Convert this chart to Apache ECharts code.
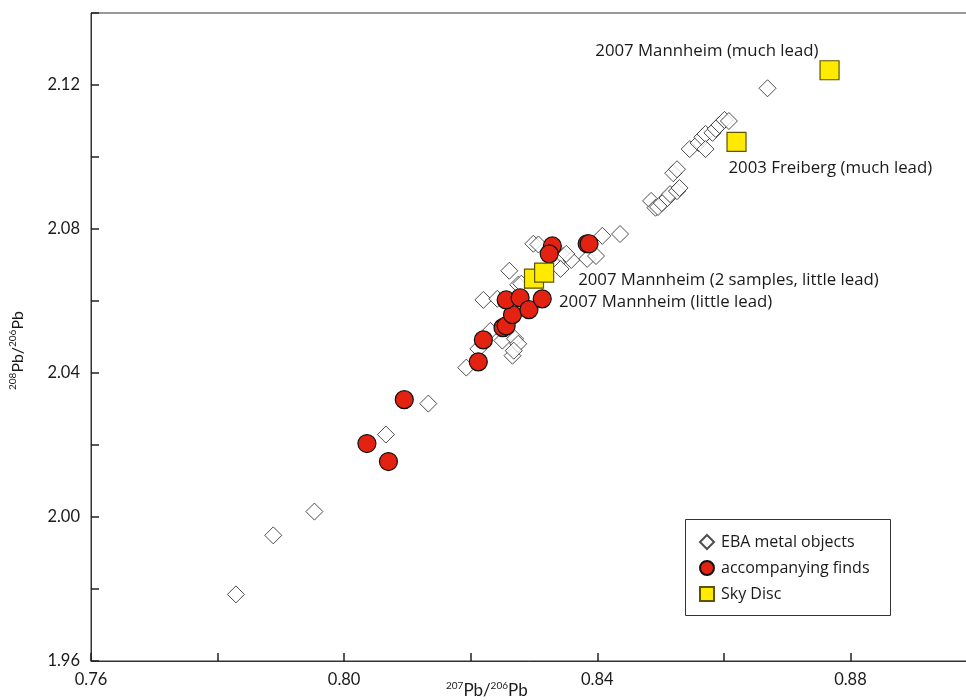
<!DOCTYPE html>
<html>
<head>
<meta charset="utf-8">
<script src="https://cdn.jsdelivr.net/npm/echarts@6/dist/echarts.min.js"></script>
<style>html,body{margin:0;padding:0;background:#fff}#c{width:966px;height:700px}</style>
</head>
<body>
<div id="c"></div>
<script>
// 207Pb/206Pb, 208Pb/206Pb
const ebaMetalObjects = [
  [0.7829,1.9785],[0.7888,1.9949],[0.7953,2.0015],[0.8066,2.0229],[0.8133,2.0315],
  [0.8193,2.0415],[0.8220,2.0603],[0.8242,2.0606],[0.8275,2.0645],[0.8261,2.0684],
  [0.8231,2.0517],[0.8250,2.0490],[0.8270,2.0495],[0.8275,2.0481],[0.8266,2.0448],
  [0.8268,2.0462],[0.8212,2.0467],[0.8299,2.0759],[0.8307,2.0757],[0.8346,2.0725],
  [0.8359,2.0714],[0.8351,2.0731],[0.8342,2.0689],[0.8384,2.0717],[0.8398,2.0725],
  [0.8408,2.0781],[0.8436,2.0786],[0.8280,2.0648],[0.8485,2.0878],[0.8492,2.0859],
  [0.8496,2.0861],[0.8502,2.0872],[0.8511,2.0886],[0.8515,2.0897],[0.8526,2.0905],
  [0.8530,2.0914],[0.8520,2.0955],[0.8526,2.0966],[0.8546,2.1022],[0.8560,2.1039],
  [0.8566,2.1055],[0.8571,2.1064],[0.8582,2.1067],[0.8587,2.1078],[0.8593,2.1089],
  [0.8601,2.1103],[0.8608,2.1100],[0.8571,2.1022],[0.8669,2.1191]
];
const accompanyingFinds = [
  [0.8095,2.0326],[0.8036,2.0204],[0.8070,2.0154],[0.8212,2.0431],[0.8220,2.0492],
  [0.8251,2.0526],[0.8256,2.0531],[0.8266,2.0562],[0.8256,2.0603],[0.8278,2.0609],
  [0.8292,2.0576],[0.8313,2.0606],[0.8329,2.0753],[0.8324,2.0731],[0.8384,2.0759],
  [0.8387,2.0759]
];
const skyDisc = [[0.8767,2.1241],[0.8620,2.1042],[0.8300,2.0662],[0.8316,2.0679]];
const skyDiscLabels = ['2007 Mannheim (much lead)','2003 Freiberg (much lead)','2007 Mannheim (little lead)','2007 Mannheim (2 samples, little lead)'];
const seriesNames = ['EBA metal objects','accompanying finds','Sky Disc'];
const xTicks = [0.76,0.80,0.84,0.88];
const yTicks = [1.96,2.00,2.04,2.08,2.12];

const FONT = 'Open Sans';
const TICKFONT = 'Lato';
const labelOffsets = [[-11,-19],[-8,26],[25,24],[34,8]];
const labelAligns = ['right','left','left','left'];

const chart = echarts.init(document.getElementById('c'));
const fmt = v => {
  const k = Math.round(v*100);
  return (xTicks.concat(yTicks).some(t => Math.round(t*100) === k)) ? (k/100).toFixed(2) : '';
};
chart.setOption({
  animation:false,
  textStyle:{fontFamily:FONT},
  grid:{left:91,top:13,bottom:39,right:-11,outerBoundsMode:'none',containLabel:false,show:true,borderColor:'#333',borderWidth:1},
  xAxis:{type:'value',min:0.76,max:0.90,interval:0.02,
    axisLine:{show:true,lineStyle:{color:'#333',width:1}},
    axisTick:{show:true,inside:true,length:8,lineStyle:{color:'#222',width:1.5}},
    splitLine:{show:false},
    axisLabel:{formatter:fmt,fontSize:16.5,color:'#1a1a1a',margin:10,fontFamily:TICKFONT}},
  yAxis:{type:'value',min:1.96,max:2.14,interval:0.02,
    axisLine:{show:true,lineStyle:{color:'#333',width:1}},
    axisTick:{show:true,inside:true,length:8,lineStyle:{color:'#222',width:1.5}},
    splitLine:{show:false},
    axisLabel:{formatter:fmt,fontSize:16.5,color:'#1a1a1a',margin:11,fontFamily:TICKFONT}},
  legend:{orient:'vertical',left:699,top:534,padding:0,itemGap:10,itemWidth:14,itemHeight:14,
    data:seriesNames,
    textStyle:{fontSize:16,color:'#1a1a1a',fontFamily:FONT,lineHeight:14,padding:[0,0,0,2]}},
  graphic:[
    {type:'rect',left:683,top:517,shape:{width:205,height:96},style:{fill:'none',stroke:'#333',lineWidth:1},z:-1},
    {type:'text',left:446,top:681,style:{
      text:'{s|207}{m|Pb/}{s|206}{m|Pb}',
      rich:{s:{fontSize:10,verticalAlign:'top',lineHeight:12,fontFamily:TICKFONT,fill:'#1a1a1a'},
            m:{fontSize:17,lineHeight:20,fontFamily:TICKFONT,fill:'#1a1a1a'}}}},
    {type:'text',x:8,y:390,rotation:Math.PI/2,style:{
      text:'{s|208}{m|Pb/}{s|206}{m|Pb}',
      rich:{s:{fontSize:10,verticalAlign:'top',lineHeight:12,fontFamily:TICKFONT,fill:'#1a1a1a'},
            m:{fontSize:16,lineHeight:20,fontFamily:TICKFONT,fill:'#1a1a1a'}}}}
  ],
  series:[
    {name:seriesNames[0],type:'scatter',symbol:'diamond',symbolSize:17,z:2,
     itemStyle:{color:'#fff',borderColor:'#222',borderWidth:1},
     data:ebaMetalObjects},
    {name:seriesNames[1],type:'scatter',symbol:'circle',symbolSize:18,z:3,
     itemStyle:{color:'#e32212',borderColor:'#111',borderWidth:1.2,opacity:1},
     data:accompanyingFinds},
    {name:seriesNames[2],type:'scatter',symbol:'rect',symbolSize:19,z:4,
     itemStyle:{color:'#ffea00',borderColor:'#5e5400',borderWidth:1.2,opacity:1},
     data:skyDisc.map((p,i)=>({value:p,label:{show:true,position:'inside',
       formatter:skyDiscLabels[i],align:labelAligns[i],verticalAlign:'middle',
       offset:labelOffsets[i],fontSize:16.8,color:'#1a1a1a',fontFamily:FONT}}))}
  ]
});
</script>
</body>
</html>
